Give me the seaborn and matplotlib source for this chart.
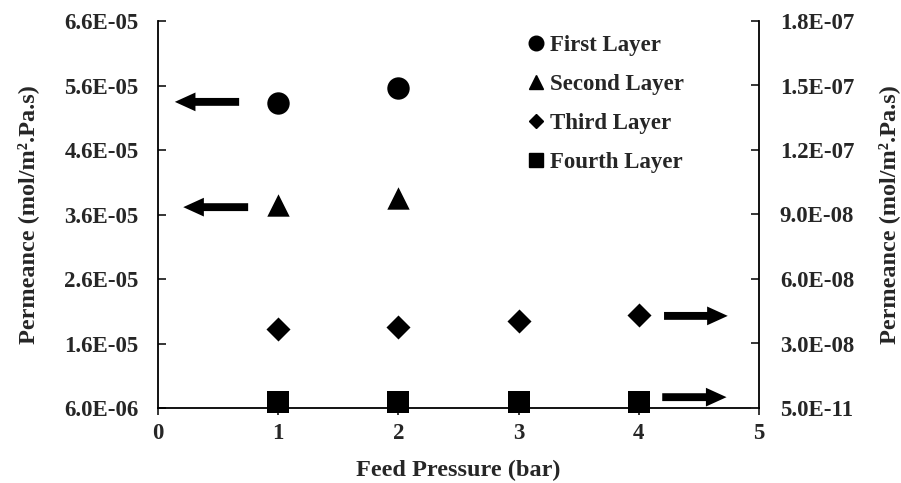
import numpy as np
import pandas as pd
import matplotlib
matplotlib.use("Agg")
import matplotlib.pyplot as plt
from matplotlib.lines import Line2D
from matplotlib.ticker import FuncFormatter, FixedLocator
import seaborn as sns

# ---- data ----
pressure_12 = [1, 2]
first_layer = [5.33e-05, 5.56e-05]
second_layer = [3.75e-05, 3.86e-05]
pressure_34 = [1, 2, 3, 4]
third_layer = [3.68e-08, 3.77e-08, 4.05e-08, 4.33e-08]
fourth_layer = [2.8e-09, 2.8e-09, 2.8e-09, 2.8e-09]
layer_names = ["First Layer", "Second Layer", "Third Layer", "Fourth Layer"]
left_ticks = [6.0e-06, 1.6e-05, 2.6e-05, 3.6e-05, 4.6e-05, 5.6e-05, 6.6e-05]
right_ticks = [5.0e-11, 3.005e-08, 6.005e-08, 9.005e-08, 1.2005e-07, 1.5005e-07, 1.8005e-07]
x_ticks = [0, 1, 2, 3, 4, 5]

df_left = pd.DataFrame({
    "Pressure": pressure_12 * 2,
    "Permeance": first_layer + second_layer,
    "Layer": [layer_names[0]] * 2 + [layer_names[1]] * 2,
})
df_right = pd.DataFrame({
    "Pressure": pressure_34 * 2,
    "Permeance": third_layer + fourth_layer,
    "Layer": [layer_names[2]] * 4 + [layer_names[3]] * 4,
})

sns.set_style("ticks")
plt.rcParams["font.family"] = ["Liberation Serif", "DejaVu Serif"]
plt.rcParams["font.weight"] = "bold"
plt.rcParams["axes.labelweight"] = "bold"

fs = 16.5
lfs = 17.5
fig = plt.figure(figsize=(9.01, 4.83), dpi=100)
ax = fig.add_axes([158 / 901, 1 - 408 / 483, (759 - 158) / 901, (408 - 21) / 483])
ax2 = ax.twinx()

markers_left = {layer_names[0]: "o", layer_names[1]: "^"}
sizes_left = {layer_names[0]: 260, layer_names[1]: 260}
for name, mk in markers_left.items():
    sub = df_left[df_left["Layer"] == name]
    sns.scatterplot(data=sub, x="Pressure", y="Permeance", marker=mk, s=sizes_left[name],
                    color="black", edgecolor="black", linewidth=0, ax=ax, legend=False, zorder=5)

markers_right = {layer_names[2]: "D", layer_names[3]: "s"}
sizes_right = {layer_names[2]: 150, layer_names[3]: 270}
for name, mk in markers_right.items():
    sub = df_right[df_right["Layer"] == name]
    sns.scatterplot(data=sub, x="Pressure", y="Permeance", marker=mk, s=sizes_right[name],
                    color="black", edgecolor="black", linewidth=0, ax=ax2, legend=False,
                    zorder=5, clip_on=False)

ax.set_xlim(0, 5)
ax.set_ylim(left_ticks[0], left_ticks[-1])
ax2.set_ylim(right_ticks[0], right_ticks[-1])
ax.xaxis.set_major_locator(FixedLocator(x_ticks))
ax.yaxis.set_major_locator(FixedLocator(left_ticks))
ax2.yaxis.set_major_locator(FixedLocator(right_ticks))
fmt = FuncFormatter(lambda v, p: f"{v:.1E}")
ax.yaxis.set_major_formatter(fmt)
ax2.yaxis.set_major_formatter(fmt)

for a in (ax, ax2):
    a.spines["top"].set_visible(False)
    for s in a.spines.values():
        s.set_linewidth(1.3)
        s.set_color("black")
ax2.spines["left"].set_visible(False)
ax2.spines["bottom"].set_visible(False)
ax.spines["right"].set_visible(False)

ax.tick_params(axis="y", direction="in", length=6, width=1.3, pad=14, labelsize=fs)
ax2.tick_params(axis="y", direction="in", length=6, width=1.3, pad=15, labelsize=fs)
ax.tick_params(axis="x", direction="out", length=5, width=1.3, pad=6, labelsize=fs)
for lab in ax.get_xticklabels() + ax.get_yticklabels() + ax2.get_yticklabels():
    lab.set_fontweight("bold")

ax.set_xlabel("Feed Pressure (bar)", fontsize=lfs, fontweight="bold", labelpad=11)
ax.set_ylabel("Permeance (mol/m\u00b2.Pa.s)", fontsize=lfs, fontweight="bold", labelpad=18)
ax2.set_ylabel("Permeance (mol/m\u00b2.Pa.s)", fontsize=lfs, fontweight="bold", labelpad=17)

# arrows pointing to the relevant axis
arrow_style = "simple,head_width=0.5,head_length=0.55,tail_width=0.21"
arrows = [((0.135, 0.791), (0.028, 0.791)),
          ((0.150, 0.519), (0.042, 0.519)),
          ((0.842, 0.238), (0.948, 0.238)),
          ((0.839, 0.028), (0.946, 0.028))]
for tail, head in arrows:
    ax.annotate("", xy=head, xytext=tail, xycoords="axes fraction", textcoords="axes fraction",
                arrowprops=dict(arrowstyle=arrow_style, color="black", mutation_scale=27, lw=0,
                                shrinkA=0, shrinkB=0), zorder=6)

# legend
handles = [Line2D([], [], marker=m, color="black", linestyle="None", markersize=ms)
           for m, ms in zip(["o", "^", "D", "s"], [10.5, 10.5, 7.5, 10.5])]
leg = ax.legend(handles, layer_names, loc="upper left", bbox_to_anchor=(529 / 901, 1 - 35 / 483),
                bbox_transform=fig.transFigure, frameon=False, fontsize=fs, handlelength=0.6,
                handletextpad=0.3, labelspacing=0.78, borderpad=0, borderaxespad=0)
for t in leg.get_texts():
    t.set_fontweight("bold")

fig.savefig("out.png", dpi=100)
